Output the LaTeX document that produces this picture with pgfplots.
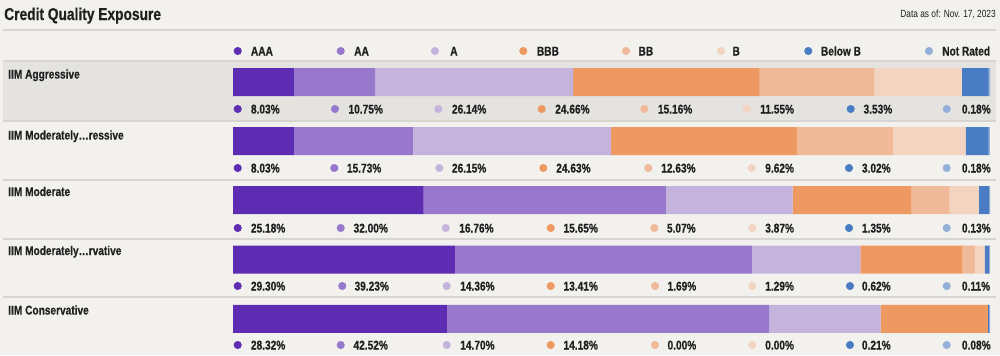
\documentclass[border=0pt]{standalone}
\usepackage{pgfplots}
\pgfplotsset{compat=1.18}
\usepackage{pgfplotstable}
\usepackage{fontspec}
\setmainfont{Liberation Sans}
\newfontfamily\cond[FakeStretch=0.8, BoldFeatures={FakeBold=0.5}]{Liberation Sans}

\definecolor{cAAA}{RGB}{94,44,178}
\definecolor{cAA}{RGB}{152,120,204}
\definecolor{cA}{RGB}{196,180,221}
\definecolor{cBBB}{RGB}{238,153,98}
\definecolor{cBB}{RGB}{240,186,154}
\definecolor{cB}{RGB}{243,212,192}
\definecolor{cBelow}{RGB}{74,124,196}
\definecolor{cNR}{RGB}{148,176,216}
\definecolor{bgc}{RGB}{242,241,237}
\definecolor{hlc}{RGB}{228,227,224}
\definecolor{linec}{RGB}{214,213,209}
\definecolor{txt}{RGB}{32,32,32}

% bar rows: y = pixel row centre
\pgfplotstableread{
y     AAA   AA    A     BBB   BB    B     BelowB NR
82    8.03  10.75 26.14 24.66 15.16 11.55 3.53   0.18
141.2 8.03  15.73 26.15 24.63 12.63 9.62  3.02   0.18
200   25.18 32.00 16.76 15.65 5.07  3.87  1.35   0.13
259.5 29.30 39.23 14.36 13.41 1.69  1.29  0.62   0.11
318.8 28.32 42.52 14.70 14.18 0.00  0.00  0.21   0.08
}\credit

\newcommand{\lbl}{\cond\bfseries\fontsize{9.5}{11}\selectfont\color{txt}}

\begin{document}
\begin{tikzpicture}
\begin{scope}[x=0.75pt,y=-0.75pt,yshift=266.25pt]
  \fill[bgc] (0,0) rectangle (1000,355);
  \fill[hlc] (3,61) rectangle (996,121);
  \foreach \yy in {30,61,121,180,239,297}{
    \draw[linec, line width=1.1pt] (3,\yy) -- (996,\yy);
  }
\end{scope}

\begin{axis}[at={(0,0)}, anchor=south west, scale only axis,
  width=750pt, height=266.25pt,
  xmin=-30.779, xmax=101.321, ymin=0, ymax=355, y dir=reverse,
  hide axis, xbar stacked, bar width=28, clip=false]
  \addplot[fill=cAAA, draw=none] table[x=AAA,y=y]{\credit};
  \addplot[fill=cAA, draw=none] table[x=AA,y=y]{\credit};
  \addplot[fill=cA, draw=none] table[x=A,y=y]{\credit};
  \addplot[fill=cBBB, draw=none] table[x=BBB,y=y]{\credit};
  \addplot[fill=cBB, draw=none] table[x=BB,y=y]{\credit};
  \addplot[fill=cB, draw=none] table[x=B,y=y]{\credit};
  \addplot[fill=cBelow, draw=none] table[x=BelowB,y=y]{\credit};
  \addplot[fill=cNR, draw=none] table[x=NR,y=y]{\credit};
\end{axis}

\begin{axis}[at={(0,0)}, anchor=south west, scale only axis,
  width=750pt, height=266.25pt,
  xmin=0, xmax=1000, ymin=0, ymax=355, y dir=reverse,
  hide axis, clip=false]
  % legend and value dots
  \addplot[only marks, mark=*, mark size=2.8pt, color=cAAA] coordinates {(237.7,51) (237.7,109) (237.7,168) (237.7,228) (237.7,286) (237.7,345)};
  \addplot[only marks, mark=*, mark size=2.8pt, color=cAA] coordinates {(340.7,51) (335,109) (334.3,168) (340.7,228) (342.3,286) (340.7,345)};
  \addplot[only marks, mark=*, mark size=2.8pt, color=cA] coordinates {(435,51) (438.3,109) (439.3,168) (445.7,228) (446.7,286) (446.7,345)};
  \addplot[only marks, mark=*, mark size=2.8pt, color=cBBB] coordinates {(523.3,51) (541.7,109) (543.3,168) (550.7,228) (550.7,286) (550.7,345)};
  \addplot[only marks, mark=*, mark size=2.8pt, color=cBB] coordinates {(626,51) (644.3,109) (648.3,168) (654.3,228) (655,286) (655,345)};
  \addplot[only marks, mark=*, mark size=2.8pt, color=cB] coordinates {(721,51) (746.7,109) (751.7,168) (752.3,228) (752.3,286) (752.3,345)};
  \addplot[only marks, mark=*, mark size=2.8pt, color=cBelow] coordinates {(808.3,51) (850.7,109) (849,168) (849,228) (850,286) (850,345)};
  \addplot[only marks, mark=*, mark size=2.8pt, color=cNR] coordinates {(929,51) (946.7,109) (946.7,168) (946.7,228) (946.7,286) (946.7,345)};

  % title
  \node[anchor=base west, inner sep=0, font=\cond\bfseries\fontsize{12.9}{14}\selectfont, text=txt] at (axis cs:4,20) {Credit Quality Exposure};
  \node[anchor=base east, inner sep=0, font=\cond\fontsize{7.8}{9}\selectfont, text=txt] at (axis cs:996,17) {Data as of: Nov. 17, 2023};

  % legend labels
  \node[anchor=base west, inner sep=0] at (axis cs:250.7,55.5) {\lbl AAA};
  \node[anchor=base west, inner sep=0] at (axis cs:354,55.5) {\lbl AA};
  \node[anchor=base west, inner sep=0] at (axis cs:450,55.5) {\lbl A};
  \node[anchor=base west, inner sep=0] at (axis cs:536.7,55.5) {\lbl BBB};
  \node[anchor=base west, inner sep=0] at (axis cs:638.3,55.5) {\lbl BB};
  \node[anchor=base west, inner sep=0] at (axis cs:732.3,55.5) {\lbl B};
  \node[anchor=base west, inner sep=0] at (axis cs:820.7,55.5) {\lbl Below B};
  \node[anchor=base west, inner sep=0] at (axis cs:942,55.5) {\lbl Not Rated};

  % row names
  \node[anchor=base west, inner sep=0] at (axis cs:8,78.5) {\lbl IIM Aggressive};
  \node[anchor=base west, inner sep=0] at (axis cs:8,139.5) {\lbl IIM Moderately…ressive};
  \node[anchor=base west, inner sep=0] at (axis cs:8,196) {\lbl IIM Moderate};
  \node[anchor=base west, inner sep=0] at (axis cs:8,255) {\lbl IIM Moderately…rvative};
  \node[anchor=base west, inner sep=0] at (axis cs:8,314.5) {\lbl IIM Conservative};

  % row 1 values
  \node[anchor=base west, inner sep=0] at (axis cs:250.7,113.5) {\lbl 8.03\%};
  \node[anchor=base west, inner sep=0] at (axis cs:348.3,113.5) {\lbl 10.75\%};
  \node[anchor=base west, inner sep=0] at (axis cs:451.7,113.5) {\lbl 26.14\%};
  \node[anchor=base west, inner sep=0] at (axis cs:555,113.5) {\lbl 24.66\%};
  \node[anchor=base west, inner sep=0] at (axis cs:657.7,113.5) {\lbl 15.16\%};
  \node[anchor=base west, inner sep=0] at (axis cs:760,113.5) {\lbl 11.55\%};
  \node[anchor=base west, inner sep=0] at (axis cs:863.3,113.5) {\lbl 3.53\%};
  \node[anchor=base west, inner sep=0] at (axis cs:961.7,113.5) {\lbl 0.18\%};
  % row 2
  \node[anchor=base west, inner sep=0] at (axis cs:250.7,172.5) {\lbl 8.03\%};
  \node[anchor=base west, inner sep=0] at (axis cs:346.7,172.5) {\lbl 15.73\%};
  \node[anchor=base west, inner sep=0] at (axis cs:451.7,172.5) {\lbl 26.15\%};
  \node[anchor=base west, inner sep=0] at (axis cs:556,172.5) {\lbl 24.63\%};
  \node[anchor=base west, inner sep=0] at (axis cs:661,172.5) {\lbl 12.63\%};
  \node[anchor=base west, inner sep=0] at (axis cs:765,172.5) {\lbl 9.62\%};
  \node[anchor=base west, inner sep=0] at (axis cs:861.7,172.5) {\lbl 3.02\%};
  \node[anchor=base west, inner sep=0] at (axis cs:961.7,172.5) {\lbl 0.18\%};
  % row 3
  \node[anchor=base west, inner sep=0] at (axis cs:250.7,232.5) {\lbl 25.18\%};
  \node[anchor=base west, inner sep=0] at (axis cs:353.3,232.5) {\lbl 32.00\%};
  \node[anchor=base west, inner sep=0] at (axis cs:459,232.5) {\lbl 16.76\%};
  \node[anchor=base west, inner sep=0] at (axis cs:563.3,232.5) {\lbl 15.65\%};
  \node[anchor=base west, inner sep=0] at (axis cs:666.7,232.5) {\lbl 5.07\%};
  \node[anchor=base west, inner sep=0] at (axis cs:765,232.5) {\lbl 3.87\%};
  \node[anchor=base west, inner sep=0] at (axis cs:861.7,232.5) {\lbl 1.35\%};
  \node[anchor=base west, inner sep=0] at (axis cs:961.7,232.5) {\lbl 0.13\%};
  % row 4
  \node[anchor=base west, inner sep=0] at (axis cs:250.7,290.5) {\lbl 29.30\%};
  \node[anchor=base west, inner sep=0] at (axis cs:354.3,290.5) {\lbl 39.23\%};
  \node[anchor=base west, inner sep=0] at (axis cs:460,290.5) {\lbl 14.36\%};
  \node[anchor=base west, inner sep=0] at (axis cs:563.3,290.5) {\lbl 13.41\%};
  \node[anchor=base west, inner sep=0] at (axis cs:667.3,290.5) {\lbl 1.69\%};
  \node[anchor=base west, inner sep=0] at (axis cs:765,290.5) {\lbl 1.29\%};
  \node[anchor=base west, inner sep=0] at (axis cs:861.7,290.5) {\lbl 0.62\%};
  \node[anchor=base west, inner sep=0] at (axis cs:961.7,290.5) {\lbl 0.11\%};
  % row 5
  \node[anchor=base west, inner sep=0] at (axis cs:250.7,349.5) {\lbl 28.32\%};
  \node[anchor=base west, inner sep=0] at (axis cs:353.3,349.5) {\lbl 42.52\%};
  \node[anchor=base west, inner sep=0] at (axis cs:460,349.5) {\lbl 14.70\%};
  \node[anchor=base west, inner sep=0] at (axis cs:563.3,349.5) {\lbl 14.18\%};
  \node[anchor=base west, inner sep=0] at (axis cs:667.3,349.5) {\lbl 0.00\%};
  \node[anchor=base west, inner sep=0] at (axis cs:765,349.5) {\lbl 0.00\%};
  \node[anchor=base west, inner sep=0] at (axis cs:861.7,349.5) {\lbl 0.21\%};
  \node[anchor=base west, inner sep=0] at (axis cs:961.7,349.5) {\lbl 0.08\%};
\end{axis}

\pgfresetboundingbox
\path[use as bounding box] (0,0) rectangle (750pt,266.25pt);
\end{tikzpicture}
\end{document}
